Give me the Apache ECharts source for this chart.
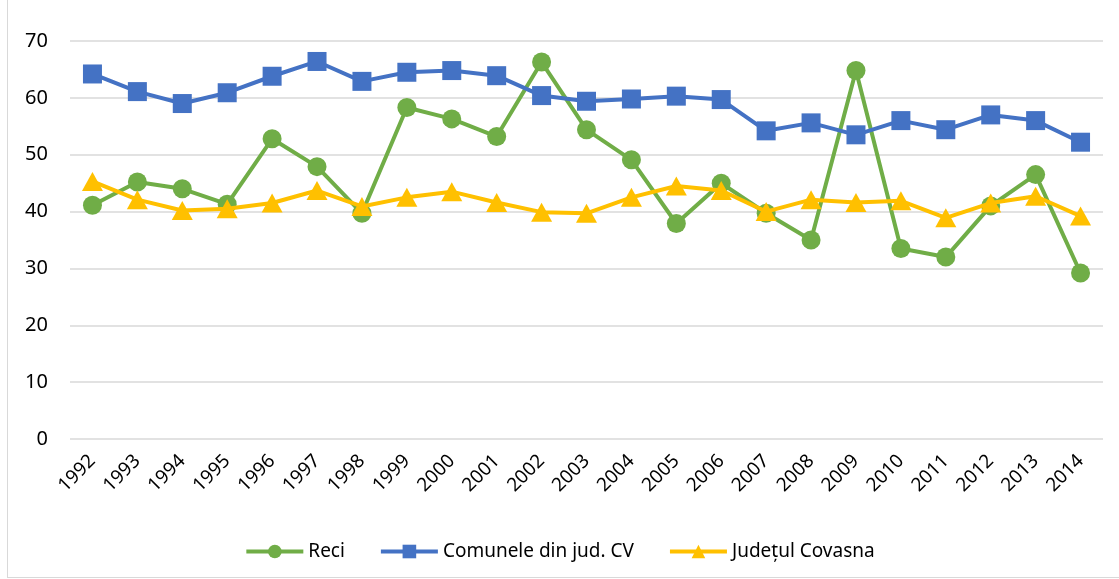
<!DOCTYPE html>
<html>
<head>
<meta charset="utf-8">
<script src="https://cdn.jsdelivr.net/npm/echarts@6/dist/echarts.min.js"></script>
<style>
  html, body { margin: 0; padding: 0; background: #fff; }
  #chart { width: 1119px; height: 579px; }
  .frame { position: absolute; left: 7px; top: 0; width: 1130px; height: 577px; border: 1px solid #d9d9d9; border-top: none; }
</style>
</head>
<body>
<div class="frame"></div>
<div id="chart" style="position: absolute; left: 0; top: 0;"></div>
<script>
// ani
const years = ['1992', '1993', '1994', '1995', '1996', '1997', '1998', '1999', '2000', '2001', '2002', '2003',
  '2004', '2005', '2006', '2007', '2008', '2009', '2010', '2011', '2012', '2013', '2014']

// Reci
const reci = [41.1, 45.2, 44.0, 41.3, 52.8, 47.9, 39.7, 58.3, 56.3, 53.2, 66.3, 54.4,
  49.1, 37.9, 45.0, 39.7, 35.0, 64.8, 33.5, 32.0, 41.0, 46.5, 29.2]

// Comunele din jud. CV
const comunele = [64.2, 61.1, 59.0, 60.9, 63.8, 66.4, 62.9, 64.5, 64.8, 63.9, 60.4, 59.4,
  59.8, 60.3, 59.7, 54.2, 55.6, 53.5, 56.0, 54.4, 57.0, 56.0, 52.2]

// Judetul Covasna
const judetul = [45.3, 42.1, 40.2, 40.5, 41.5, 43.7, 40.9, 42.5, 43.5, 41.6, 39.9, 39.7,
  42.5, 44.5, 43.7, 40.0, 42.1, 41.6, 41.9, 38.9, 41.5, 42.7, 39.2]

const chart = echarts.init(document.getElementById('chart'))

const font = '"Noto Sans", sans-serif'

const option = {
  animation: false,
  grid: {
    left: 70,
    right: 16,
    top: 41,
    bottom: 140
  },
  legend: {
    bottom: 13,
    left: 'center',
    itemWidth: 57,
    itemHeight: 17,
    itemGap: 34,
    lineStyle: { width: 4 },
    textStyle: { fontFamily: font, fontSize: 19, color: '#000' },
    data: ['Reci', 'Comunele din jud. CV', 'Județul Covasna']
  },
  xAxis: {
    type: 'category',
    data: years,
    boundaryGap: true,
    axisLine: { show: false },
    axisTick: { show: false },
    axisLabel: {
      rotate: 45,
      margin: 19,
      interval: 0,
      color: '#000',
      fontFamily: font,
      fontSize: 19
    }
  },
  yAxis: {
    type: 'value',
    min: 0,
    max: 70,
    interval: 10,
    axisLine: { show: false },
    axisTick: { show: false },
    axisLabel: {
      margin: 22,
      color: '#000',
      fontFamily: font,
      fontSize: 20
    },
    splitLine: { lineStyle: { color: '#d9d9d9', width: 1.5 } }
  },
  series: [
    {
      name: 'Reci',
      type: 'line',
      data: reci,
      symbol: 'circle',
      symbolSize: 19,
      lineStyle: { width: 4, color: '#70ad47' },
      itemStyle: { color: '#70ad47' },
      z: 2
    },
    {
      name: 'Comunele din jud. CV',
      type: 'line',
      data: comunele,
      symbol: 'rect',
      symbolSize: 19,
      lineStyle: { width: 4, color: '#4472c4' },
      itemStyle: { color: '#4472c4' },
      z: 3
    },
    {
      name: 'Județul Covasna',
      type: 'line',
      data: judetul,
      symbol: 'triangle',
      symbolSize: [21, 19],
      lineStyle: { width: 4, color: '#ffc000' },
      itemStyle: { color: '#ffc000' },
      z: 4
    }
  ]
}

chart.setOption(option)
</script>
</body>
</html>
